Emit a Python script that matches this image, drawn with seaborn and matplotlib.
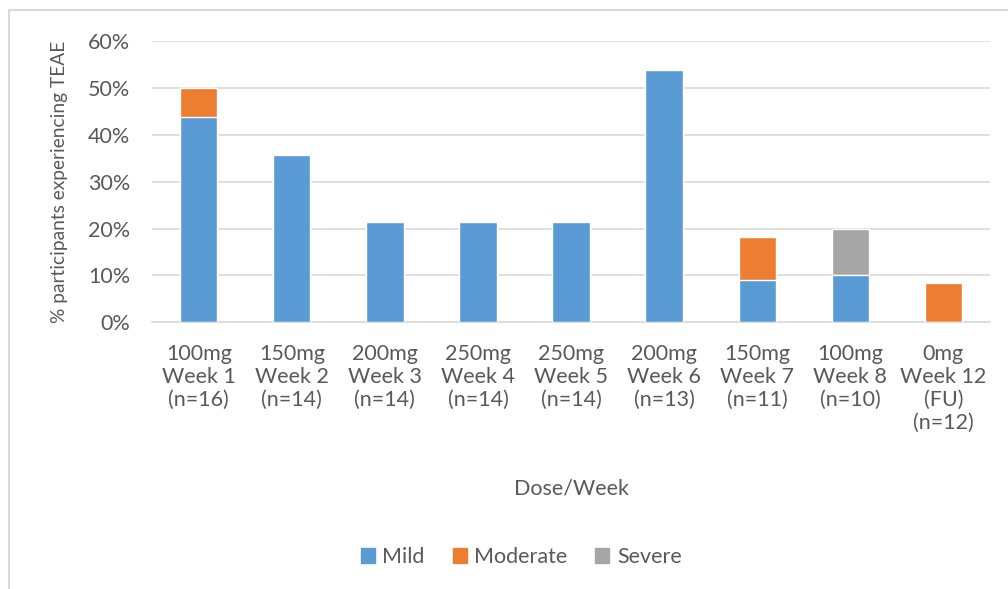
import pandas as pd
import matplotlib
matplotlib.use("Agg")
import matplotlib.pyplot as plt
import seaborn as sns
from matplotlib.patches import Patch
from matplotlib.lines import Line2D
from matplotlib.ticker import PercentFormatter

# data (fraction of participants per severity)
doses = ["100mg\nWeek 1\n(n=16)", "150mg\nWeek 2\n(n=14)", "200mg\nWeek 3\n(n=14)",
         "250mg\nWeek 4\n(n=14)", "250mg\nWeek 5\n(n=14)", "200mg\nWeek 6\n(n=13)",
         "150mg\nWeek 7\n(n=11)", "100mg\nWeek 8\n(n=10)", "0mg\nWeek 12\n(FU)\n(n=12)"]
mild = [0.4375, 0.357, 0.214, 0.214, 0.214, 0.538, 0.091, 0.10, 0.0]
moderate = [0.0625, 0.0, 0.0, 0.0, 0.0, 0.0, 0.091, 0.0, 0.083]
severe = [0.0, 0.0, 0.0, 0.0, 0.0, 0.0, 0.0, 0.10, 0.0]

colors = {"Mild": "#5B9BD5", "Moderate": "#ED7D31", "Severe": "#A5A5A5"}
text_color = "#595959"

df = pd.DataFrame({"dose": doses, "Mild": mild, "Moderate": moderate, "Severe": severe})
df["top_mod"] = df["Mild"] + df["Moderate"]
df["top_sev"] = df["top_mod"] + df["Severe"]

sns.set_style("white")
plt.rcParams["font.family"] = ["Lato", "DejaVu Sans"]

fig = plt.figure(figsize=(10.08, 5.89), dpi=100)
ax = fig.add_axes([0.151, 0.453, 0.831, 0.477])

# stacked by drawing cumulative heights, tallest first
sns.barplot(data=df, x="dose", y="top_sev", color=colors["Severe"], width=0.4,
            saturation=1, ax=ax, zorder=2)
sns.barplot(data=df, x="dose", y="top_mod", color=colors["Moderate"], width=0.4,
            saturation=1, ax=ax, zorder=3)
sns.barplot(data=df, x="dose", y="Mild", color=colors["Mild"], width=0.4,
            saturation=1, ax=ax, zorder=4)

ax.set_xlim(-0.5, len(doses) - 0.5)
ax.set_ylim(0, 0.6)
ax.set_yticks([0, 0.1, 0.2, 0.3, 0.4, 0.5, 0.6])
ax.yaxis.set_major_formatter(PercentFormatter(1.0, decimals=0))
ax.grid(axis="y", color="#D9D9D9", linewidth=1.2, zorder=0)
ax.set_axisbelow(True)
for side in ["top", "right", "left"]:
    ax.spines[side].set_visible(False)
ax.spines["bottom"].set_color("#D9D9D9")
ax.spines["bottom"].set_linewidth(1.2)
ax.tick_params(axis="both", length=0, labelsize=15.5, colors=text_color)
ax.tick_params(axis="x", pad=16)
ax.tick_params(axis="y", pad=16)
for lab in ax.get_xticklabels():
    lab.set_linespacing(1.17)

ax.set_xlabel("Dose/Week", fontsize=15.5, color=text_color, labelpad=33)
ax.set_ylabel("% participants experiencing TEAE", fontsize=13.8, color=text_color, labelpad=14)

handles = [Patch(color=colors[k], label=k) for k in ["Mild", "Moderate", "Severe"]]
fig.legend(handles=handles, loc="center", bbox_to_anchor=(0.517, 0.054), ncol=3,
           frameon=False, fontsize=15.5, handlelength=0.65, handleheight=0.65,
           handletextpad=0.35, columnspacing=1.3, labelcolor=text_color)

# light outer frame of the chart area
fig.add_artist(Line2D([9 / 1008, 9 / 1008], [0, 1 - 10 / 589], color="#D9D9D9",
                      linewidth=1.5, transform=fig.transFigure))
fig.add_artist(Line2D([9 / 1008, 1], [1 - 10 / 589, 1 - 10 / 589], color="#D9D9D9",
                      linewidth=1.5, transform=fig.transFigure))

fig.savefig("out.png", dpi=100)
